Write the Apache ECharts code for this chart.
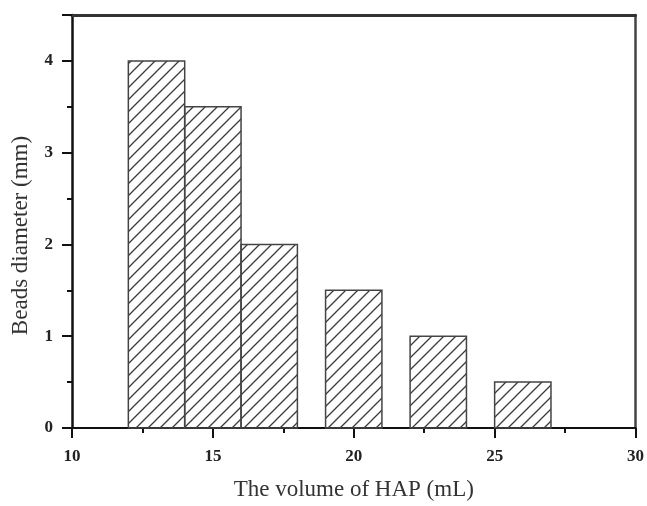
<!DOCTYPE html>
<html>
<head>
<meta charset="utf-8">
<script src="https://cdn.jsdelivr.net/npm/echarts@6/dist/echarts.min.js"></script>
<style>
html,body{margin:0;padding:0;background:#fff;}
#chart{width:647px;height:506px;}
</style>
</head>
<body>
<div id="chart"></div>
<script>
// Data
const binStart = [12, 14, 16, 19, 22, 25];
const binEnd = [14, 16, 18, 21, 24, 27];
const diameters = [4, 3.5, 2, 1.5, 1, 0.5];
const xTickValues = [10, 15, 20, 25, 30];
const yTickValues = [0, 1, 2, 3, 4];

const fontFam = '"Liberation Serif", "Times New Roman", serif';

// hatch pattern
const tile = document.createElement('canvas');
tile.width = 12; tile.height = 12;
const ctx = tile.getContext('2d');
ctx.strokeStyle = '#3a3a3a';
ctx.lineWidth = 1.3;
ctx.beginPath();
ctx.moveTo(-1, 13); ctx.lineTo(13, -1);
ctx.moveTo(-2, 2); ctx.lineTo(2, -2);
ctx.moveTo(10, 14); ctx.lineTo(14, 10);
ctx.stroke();

const data = binStart.map((s, i) => [s, binEnd[i], diameters[i]]);

const chart = echarts.init(document.getElementById('chart'), null, {renderer: 'canvas'});
chart.setOption({
  animation: false,
  backgroundColor: '#fff',
  grid: {left: 72, right: 8, top: 15, bottom: 74, containLabel: false},
  xAxis: [{
    type: 'value', min: 10, max: 30, interval: 5, position: 'bottom',
    name: 'The volume of HAP (mL)', nameLocation: 'middle', nameGap: 50,
    nameTextStyle: {fontFamily: fontFam, fontSize: 23, color: '#333'},
    axisLine: {show: true, onZero: false, lineStyle: {color: '#111', width: 2}},
    axisTick: {show: true, inside: false, length: 10, lineStyle: {color: '#111', width: 2}},
    minorTick: {show: true, splitNumber: 2, length: 5, lineStyle: {color: '#111', width: 2}},
    splitLine: {show: false},
    axisLabel: {margin: 20, fontFamily: fontFam, fontSize: 17, fontWeight: 'bold', color: '#222',
      formatter: v => xTickValues.includes(v) ? String(v) : ''}
  }, {
    type: 'value', min: 10, max: 30, position: 'top',
    axisLine: {show: true, onZero: false, lineStyle: {color: '#333', width: 3}},
    axisTick: {show: false}, axisLabel: {show: false}, splitLine: {show: false}
  }],
  yAxis: [{
    type: 'value', min: 0, max: 4.5, interval: 1, position: 'left',
    name: 'Beads diameter (mm)', nameLocation: 'middle', nameGap: 40,
    nameTextStyle: {fontFamily: fontFam, fontSize: 23, color: '#333', padding: [0, 28, 0, 0]},
    axisLine: {show: true, onZero: false, lineStyle: {color: '#111', width: 2.5}},
    axisTick: {show: true, inside: false, length: 10, lineStyle: {color: '#111', width: 2}},
    minorTick: {show: true, splitNumber: 2, length: 5, lineStyle: {color: '#111', width: 2}},
    splitLine: {show: false},
    axisLabel: {margin: 19, fontFamily: fontFam, fontSize: 17, fontWeight: 'bold', color: '#222',
      formatter: v => yTickValues.includes(v) ? String(v) : ''}
  }, {
    type: 'value', min: 0, max: 4.5, position: 'right',
    axisLine: {show: true, onZero: false, lineStyle: {color: '#444', width: 2.5}},
    axisTick: {show: false}, axisLabel: {show: false}, splitLine: {show: false}
  }],
  series: [{
    type: 'custom',
    xAxisIndex: 0, yAxisIndex: 0,
    data: data,
    renderItem: function (params, api) {
      const x0 = api.value(0), x1 = api.value(1), y = api.value(2);
      const p0 = api.coord([x0, y]);
      const p1 = api.coord([x1, 0]);
      return {
        type: 'rect',
        shape: {x: p0[0], y: p0[1], width: p1[0] - p0[0], height: p1[1] - p0[1]},
        style: {fill: {image: tile, repeat: 'repeat'}, stroke: '#444', lineWidth: 1.5}
      };
    }
  }]
});
</script>
</body>
</html>
